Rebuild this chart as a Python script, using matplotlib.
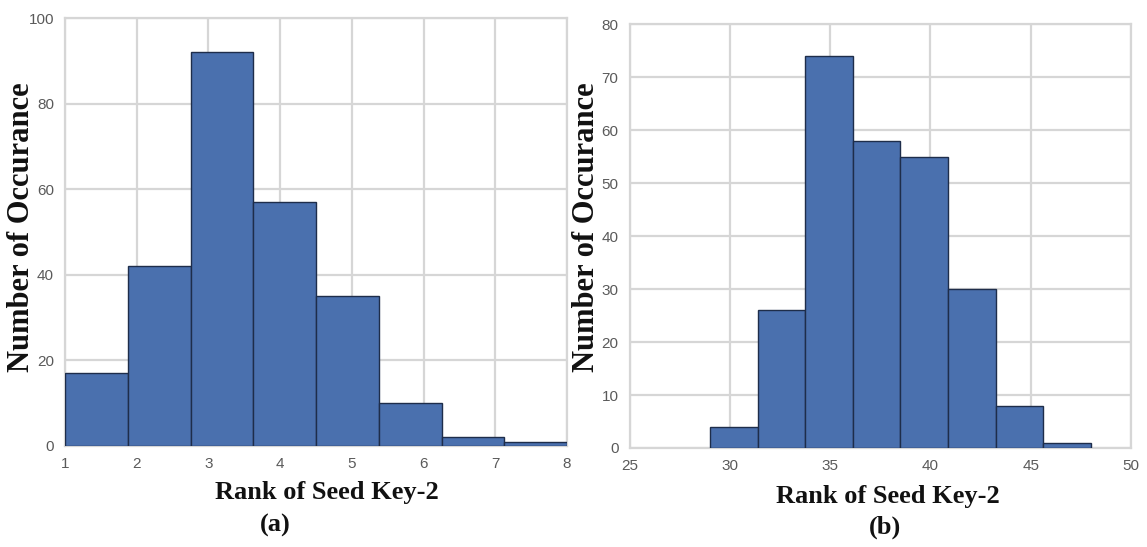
import numpy as np
import matplotlib
matplotlib.use("Agg")
import matplotlib.pyplot as plt

# bin edges and counts for the two histograms
edges_a = np.linspace(1, 8, 9)
counts_a = [17, 42, 92, 57, 35, 10, 2, 1]

edges_b = np.linspace(29, 48, 9)
counts_b = [4, 26, 74, 58, 55, 30, 8, 1]

xticks_a = [1, 2, 3, 4, 5, 6, 7, 8]
yticks_a = [0, 20, 40, 60, 80, 100]
xticks_b = [25, 30, 35, 40, 45, 50]
yticks_b = [0, 10, 20, 30, 40, 50, 60, 70, 80]

bar_color = "#4a70ae"
edge_color = "#1e2d4a"
grid_color = "#d6d6d6"
tick_color = "#5a5a5a"
serif = "Liberation Serif"


def draw_hist(ax, edges, counts, xticks, yticks):
    ax.hist(edges[:-1], bins=edges, weights=counts, color=bar_color,
            edgecolor=edge_color, linewidth=1.0, zorder=3)
    ax.set_xlim(xticks[0], xticks[-1])
    ax.set_ylim(yticks[0], yticks[-1])
    ax.set_xticks(xticks)
    ax.set_yticks(yticks)
    ax.grid(True, color=grid_color, linewidth=1.6, zorder=0)
    ax.set_axisbelow(True)
    for s in ax.spines.values():
        s.set_color(grid_color)
        s.set_linewidth(1.6)
    ax.tick_params(length=0, labelsize=11, labelcolor=tick_color, pad=8)
    for lab in ax.get_xticklabels() + ax.get_yticklabels():
        lab.set_family("Liberation Sans")


fig = plt.figure(figsize=(11.47, 5.47), dpi=100)
ax1 = fig.add_axes([0.0567, 0.185, 0.4377, 0.782])
ax2 = fig.add_axes([0.549, 0.181, 0.437, 0.775])

draw_hist(ax1, edges_a, counts_a, xticks_a, yticks_a)
draw_hist(ax2, edges_b, counts_b, xticks_b, yticks_b)

lab_kw = dict(family=serif, fontweight="bold", color="#111111")
fig.text(0.019, 0.585, "Number of Occurance", rotation=90, ha="center",
         va="center", fontsize=22, **lab_kw)
fig.text(0.5115, 0.585, "Number of Occurance", rotation=90, ha="center",
         va="center", fontsize=22, **lab_kw)
fig.text(0.285, 0.100, "Rank of Seed Key-2", ha="center", va="center",
         fontsize=19, **lab_kw)
fig.text(0.774, 0.092, "Rank of Seed Key-2", ha="center", va="center",
         fontsize=19, **lab_kw)
fig.text(0.240, 0.040, "(a)", ha="center", va="center", fontsize=19, **lab_kw)
fig.text(0.772, 0.036, "(b)", ha="center", va="center", fontsize=19, **lab_kw)

fig.savefig("out.png", dpi=100)
